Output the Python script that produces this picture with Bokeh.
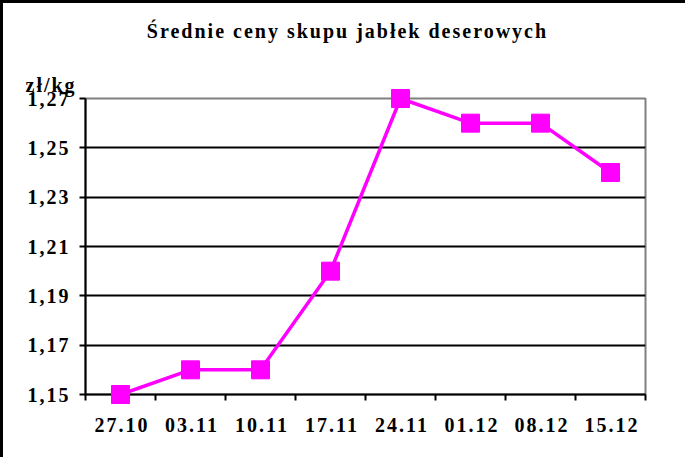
from bokeh.plotting import figure
from bokeh.models import FixedTicker, CustomJSTickFormatter, ColumnDataSource
from bokeh.core.properties import value
from bokeh.embed import file_html
from bokeh.resources import INLINE

dates = ["27.10", "03.11", "10.11", "17.11", "24.11", "01.12", "08.12", "15.12"]
prices = [1.15, 1.16, 1.16, 1.20, 1.27, 1.26, 1.26, 1.24]
y_ticks = [1.15, 1.17, 1.19, 1.21, 1.23, 1.25, 1.27]
title_text = "Średnie ceny skupu jabłek deserowych"
unit_text = "zł/kg"

FONT = "Liberation Serif"

xs = [i + 0.5 for i in range(len(dates))]
label_pos = [x - 0.05 for x in xs]  # compensate letter-spacing in centered labels
src = ColumnDataSource(dict(x=xs, y=prices))

p = figure(width=685, height=457, output_backend="svg", toolbar_location=None,
           x_range=(0, len(dates)), y_range=(y_ticks[0], y_ticks[-1]),
           min_border_left=82, min_border_right=43, min_border_top=95, min_border_bottom=66)
p.styles = {"border-top": "3px solid black", "border-left": "3px solid black",
            "letter-spacing": "2px"}

p.outline_line_color = "#808080"
p.outline_line_width = 2
p.background_fill_color = "white"

# x axis
p.xaxis.ticker = FixedTicker(ticks=label_pos, minor_ticks=list(range(len(dates) + 1)))
p.xaxis.major_label_overrides = {x: d for x, d in zip(label_pos, dates)}
p.xaxis.major_tick_line_color = None
p.xaxis.minor_tick_line_color = "black"
p.xaxis.minor_tick_line_width = 2
p.xaxis.minor_tick_out = 6
p.xaxis.minor_tick_in = 0
p.xaxis.axis_line_color = "black"
p.xaxis.axis_line_width = 2
p.xaxis.major_label_standoff = 17
p.xaxis.major_label_text_font = FONT
p.xaxis.major_label_text_font_style = "bold"
p.xaxis.major_label_text_font_size = "20px"
p.xaxis.major_label_text_color = "black"

# y axis
p.yaxis.ticker = FixedTicker(ticks=y_ticks, minor_ticks=[])
p.yaxis.formatter = CustomJSTickFormatter(code="return tick.toFixed(2).replace('.', ',');")
p.yaxis.major_tick_line_color = "black"
p.yaxis.major_tick_line_width = 2
p.yaxis.major_tick_out = 6
p.yaxis.major_tick_in = 0
p.yaxis.axis_line_color = "black"
p.yaxis.axis_line_width = 2
p.yaxis.major_label_standoff = 17
p.yaxis.major_label_text_font = FONT
p.yaxis.major_label_text_font_style = "bold"
p.yaxis.major_label_text_font_size = "20px"
p.yaxis.major_label_text_color = "black"

p.xgrid.grid_line_color = None
p.ygrid.ticker = FixedTicker(ticks=y_ticks)
p.ygrid.grid_line_color = "black"
p.ygrid.grid_line_width = 2

p.line("x", "y", source=src, line_color="#FF00FF", line_width=3.5, level="overlay")
p.scatter("x", "y", source=src, marker="square", size=18, fill_color="#FF00FF",
          line_color="#FF00FF", level="overlay")

p.text(x=[3.228], y=[1.2975], text=[title_text], text_align="center",
       text_baseline="alphabetic", text_font=value(FONT), text_font_style="bold",
       text_font_size="20px", text_color="black", level="overlay")
p.text(x=[-0.857], y=[1.2756], text=[unit_text], text_align="left",
       text_baseline="alphabetic", text_font=value(FONT), text_font_style="bold",
       text_font_size="20px", text_color="black", level="overlay")

open("out.html", "w").write(file_html(p, INLINE))
